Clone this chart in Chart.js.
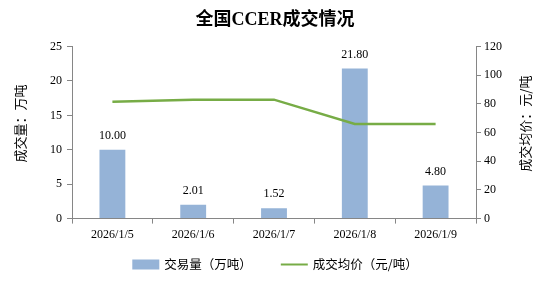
<!DOCTYPE html>
<html>
<head>
<meta charset="utf-8">
<script src="https://cdn.jsdelivr.net/npm/chart.js@4/dist/chart.umd.min.js"></script>
<style>
  html, body { margin: 0; padding: 0; background: #fff; }
  #wrap { width: 550px; height: 281px; }
</style>
</head>
<body>
<div id="wrap"><canvas id="ccerChart" width="550" height="281"></canvas></div>
<script>
var dates = ["2026/1/5", "2026/1/6", "2026/1/7", "2026/1/8", "2026/1/9"];
var volume = [10.00, 2.01, 1.52, 21.80, 4.80];
var avgPrice = [81.5, 83, 83, 66, 66];
var volumeTicks = [0, 5, 10, 15, 20, 25];
var priceTicks = [0, 20, 40, 60, 80, 100, 120];
var leftTitle = "成交量：万吨";
var rightTitle = "成交均价：元/吨";

var serif = "'Liberation Serif', 'Times New Roman', serif";
var cjk = "'Noto Sans CJK SC', 'Noto Sans', sans-serif";
var axisGray = "#868686";

// value above each bar
var barLabels = {
	id: "barLabels",
	afterDatasetsDraw: function(chart) {
		var ctx = chart.ctx;
		var meta = chart.getDatasetMeta(0);
		ctx.save();
		ctx.font = "12px " + serif;
		ctx.fillStyle = "#000";
		ctx.textAlign = "center";
		ctx.textBaseline = "bottom";
		meta.data.forEach(function(bar, i) {
			ctx.fillText(volume[i].toFixed(2), bar.x, bar.y - 8);
		});
		ctx.restore();
	}
};

// both axis titles read bottom-to-top
var axisTitles = {
	id: "axisTitles",
	afterDraw: function(chart) {
		var ctx = chart.ctx;
		var midY = chart.chartArea.top + (chart.chartArea.bottom - chart.chartArea.top) / 2 - 9;
		ctx.save();
		ctx.font = "13px " + cjk;
		ctx.fillStyle = "#000";
		ctx.textAlign = "center";
		ctx.textBaseline = "middle";
		[[20, leftTitle], [525, rightTitle]].forEach(function(t) {
			ctx.save();
			ctx.translate(t[0], midY);
			ctx.rotate(-Math.PI / 2);
			ctx.fillText(t[1], 0, 0);
			ctx.restore();
		});
		ctx.restore();
	}
};

// legend at the bottom, bar box then line sample
var bottomLegend = {
	id: "bottomLegend",
	afterDraw: function(chart) {
		var ctx = chart.ctx;
		var ds = chart.data.datasets;
		var cy = 264.5, sw = 27, gapText = 5, gapItem = 29;
		ctx.save();
		ctx.font = "12.5px " + cjk;
		var w0 = ctx.measureText(ds[0].label).width;
		var w1 = ctx.measureText(ds[1].label).width;
		var total = sw + gapText + w0 + gapItem + sw + gapText + w1;
		var x = chart.width / 2 - total / 2;
		ctx.fillStyle = ds[0].backgroundColor;
		ctx.fillRect(x, cy - 5, sw, 10);
		ctx.fillStyle = "#000";
		ctx.textBaseline = "middle";
		ctx.textAlign = "left";
		ctx.fillText(ds[0].label, x + sw + gapText, cy);
		x += sw + gapText + w0 + gapItem;
		ctx.strokeStyle = ds[1].borderColor;
		ctx.lineWidth = 2;
		ctx.beginPath();
		ctx.moveTo(x, cy);
		ctx.lineTo(x + sw, cy);
		ctx.stroke();
		ctx.fillText(ds[1].label, x + sw + gapText, cy);
		ctx.restore();
	}
};

var ctx = document.getElementById("ccerChart").getContext("2d");
var chart = new Chart(ctx, {
	type: "bar",
	data: {
		labels: dates,
		datasets: [
			{
				label: "交易量（万吨）",
				data: volume,
				backgroundColor: "#95B3D7",
				borderWidth: 0,
				yAxisID: "y",
				categoryPercentage: 1,
				barPercentage: 0.32,
				order: 2
			},
			{
				type: "line",
				label: "成交均价（元/吨）",
				data: avgPrice,
				borderColor: "#77AC46",
				backgroundColor: "#77AC46",
				borderWidth: 2.5,
				pointRadius: 0,
				tension: 0,
				yAxisID: "y1",
				order: 1
			}
		]
	},
	options: {
		responsive: false,
		animation: false,
		layout: { padding: { left: 0, right: 0, top: 0, bottom: 35 } },
		plugins: {
			title: {
				display: true,
				text: "全国CCER成交情况",
				color: "#000",
				font: { family: serif + ", " + cjk, size: 18, weight: "bold" },
				padding: { top: 10, bottom: 15 }
			},
			legend: { display: false },
			tooltip: { enabled: false }
		},
		scales: {
			x: {
				grid: { display: true, drawOnChartArea: false, drawTicks: true, tickLength: 5, color: axisGray, offset: true },
				border: { display: true, color: axisGray },
				ticks: { color: "#000", font: { family: serif, size: 12 }, padding: 4 }
			},
			y: {
				position: "left",
				min: 0,
				max: 25,
				afterBuildTicks: function(axis) {
					axis.ticks = volumeTicks.map(function(v) { return { value: v }; });
				},
				afterFit: function(axis) { axis.width = 72; },
				grid: { display: true, drawOnChartArea: false, drawTicks: true, tickLength: 5, color: axisGray },
				border: { display: true, color: axisGray },
				ticks: { color: "#000", font: { family: serif, size: 12 }, padding: 5 }
			},
			y1: {
				position: "right",
				min: 0,
				max: 120,
				afterBuildTicks: function(axis) {
					axis.ticks = priceTicks.map(function(v) { return { value: v }; });
				},
				afterFit: function(axis) { axis.width = 74; },
				grid: { display: true, drawOnChartArea: false, drawTicks: true, tickLength: 5, color: axisGray },
				border: { display: true, color: axisGray },
				ticks: { color: "#000", font: { family: serif, size: 12 }, padding: 3 }
			}
		}
	},
	plugins: [barLabels, axisTitles, bottomLegend]
});
</script>
</body>
</html>
